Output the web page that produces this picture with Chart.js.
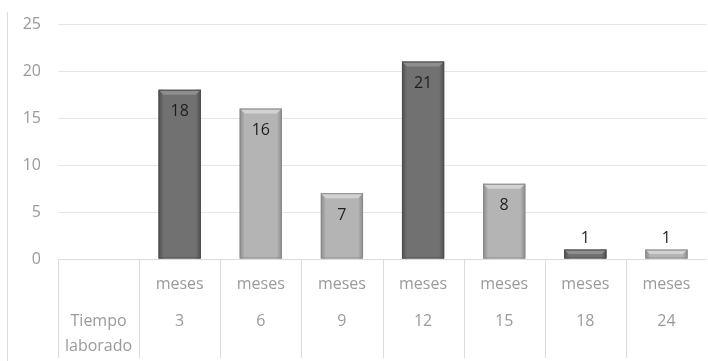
<!DOCTYPE html>
<html>
<head>
<meta charset="utf-8">
<script src="https://cdn.jsdelivr.net/npm/chart.js@4.4.1/dist/chart.umd.min.js"></script>
<style>
  html, body { margin: 0; padding: 0; background: #ffffff; }
  #wrap { width: 708px; height: 361px; position: relative; }
</style>
</head>
<body>
<div id="wrap"><canvas id="tiempoChart" width="708" height="361"></canvas></div>
<script>
// Data
const topLabels = ['', 'meses', 'meses', 'meses', 'meses', 'meses', 'meses', 'meses'];
const bottomLabels = [['Tiempo', 'laborado'], ['3'], ['6'], ['9'], ['12'], ['15'], ['18'], ['24']];
const values = [null, 18, 16, 7, 21, 8, 1, 1];
const yTicks = [0, 5, 10, 15, 20, 25];

// dark / light shading per bar
const shade = ['light', 'dark', 'light', 'light', 'dark', 'light', 'dark', 'light'];
const palette = {
    dark: { fill: '#717171', edge: '#4e4e4e', top: '#8e8e8e' },
    light: { fill: '#b4b4b4', edge: '#8a8a8a', top: '#d2d2d2' }
};

const FONT = '"Open Sans", "DejaVu Sans", sans-serif';

// table under the bars, bevel on the bars, value labels
const tablePlugin = {
    id: 'tablePlugin',
    afterDatasetsDraw(chart) {
        const ctx = chart.ctx;
        const meta = chart.getDatasetMeta(0);
        meta.data.forEach(function(bar, i) {
            if (values[i] === null) return;
            const p = palette[shade[i]];
            const left = bar.x - bar.width / 2;
            const right = bar.x + bar.width / 2;
            const top = bar.y;
            const base = bar.base;
            const h = base - top;
            const bev = Math.min(5, h / 2);
            ctx.save();
            // left edge
            let g = ctx.createLinearGradient(left, 0, left + 5, 0);
            g.addColorStop(0, p.edge);
            g.addColorStop(1, p.fill);
            ctx.fillStyle = g;
            ctx.fillRect(left, top, 5, h);
            // right edge
            g = ctx.createLinearGradient(right - 5, 0, right, 0);
            g.addColorStop(0, p.fill);
            g.addColorStop(1, p.edge);
            ctx.fillStyle = g;
            ctx.fillRect(right - 5, top, 5, h);
            // top bevel
            ctx.fillStyle = p.top;
            ctx.beginPath();
            ctx.moveTo(left, top);
            ctx.lineTo(right, top);
            ctx.lineTo(right - bev, top + bev);
            ctx.lineTo(left + bev, top + bev);
            ctx.closePath();
            ctx.fill();
            ctx.strokeStyle = p.edge;
            ctx.lineWidth = 1;
            ctx.strokeRect(left + 0.5, top + 0.5, bar.width - 1, h - 1);
            ctx.restore();

            // value label
            ctx.save();
            ctx.font = '16px ' + FONT;
            ctx.fillStyle = '#1e1e1e';
            ctx.textAlign = 'center';
            ctx.textBaseline = 'middle';
            const ly = h > 30 ? top + 22 : top - 11;
            ctx.fillText(String(values[i]), bar.x, ly);
            ctx.restore();
        });
    },
    afterDraw(chart) {
        const ctx = chart.ctx;
        const area = chart.chartArea;
        const x = chart.scales.x;
        const n = topLabels.length;
        const colW = (area.right - area.left) / n;
        ctx.save();
        ctx.strokeStyle = '#dcdcdc';
        ctx.lineWidth = 1;
        // outer left border
        ctx.beginPath();
        ctx.moveTo(7.5, 12);
        ctx.lineTo(7.5, chart.height);
        ctx.stroke();
        // axis line
        ctx.beginPath();
        ctx.moveTo(area.left, Math.round(area.bottom) + 0.5);
        ctx.lineTo(area.right, Math.round(area.bottom) + 0.5);
        ctx.stroke();
        // column separators
        for (let i = 0; i < n; i++) {
            const bx = Math.round(x.getPixelForValue(i) - colW / 2) + 0.5;
            ctx.beginPath();
            ctx.moveTo(bx, area.bottom);
            ctx.lineTo(bx, area.bottom + 99);
            ctx.stroke();
        }
        // labels
        ctx.font = '16px ' + FONT;
        ctx.fillStyle = '#9a9a9a';
        ctx.textAlign = 'center';
        ctx.textBaseline = 'middle';
        for (let i = 0; i < n; i++) {
            const cx = x.getPixelForValue(i);
            if (topLabels[i]) ctx.fillText(topLabels[i], cx, area.bottom + 25);
            bottomLabels[i].forEach(function(line, k) {
                ctx.fillText(line, cx, area.bottom + 62 + k * 25);
            });
        }
        ctx.restore();
    }
};

const ctxTiempo = document.getElementById('tiempoChart').getContext('2d');
const tiempoChart = new Chart(ctxTiempo, {
    type: 'bar',
    data: {
        labels: bottomLabels.map(function(l, i) { return (topLabels[i] + ' ' + l.join(' ')).trim(); }),
        datasets: [{
            data: values,
            backgroundColor: shade.map(function(s) { return palette[s].fill; }),
            borderWidth: 0,
            categoryPercentage: 1.0,
            barPercentage: 0.52
        }]
    },
    options: {
        responsive: false,
        animation: false,
        layout: {
            padding: { top: 24, right: 1, bottom: 102, left: 0 }
        },
        scales: {
            x: {
                display: false
            },
            y: {
                min: 0,
                max: 25,
                afterFit: function(scale) {
                    scale.width = 58;
                    scale.paddingTop = 0;
                    scale.paddingBottom = 0;
                },
                afterBuildTicks: function(scale) {
                    scale.ticks = yTicks.map(function(v) { return { value: v }; });
                },
                border: { display: false },
                grid: {
                    color: function(c) { return c.tick.value === 0 ? 'rgba(0,0,0,0)' : '#e6e6e6'; },
                    drawTicks: false
                },
                ticks: {
                    color: '#9a9a9a',
                    font: { size: 16, family: FONT },
                    padding: 17
                }
            }
        },
        plugins: {
            legend: { display: false },
            tooltip: { enabled: false }
        }
    },
    plugins: [tablePlugin]
});
</script>
</body>
</html>
